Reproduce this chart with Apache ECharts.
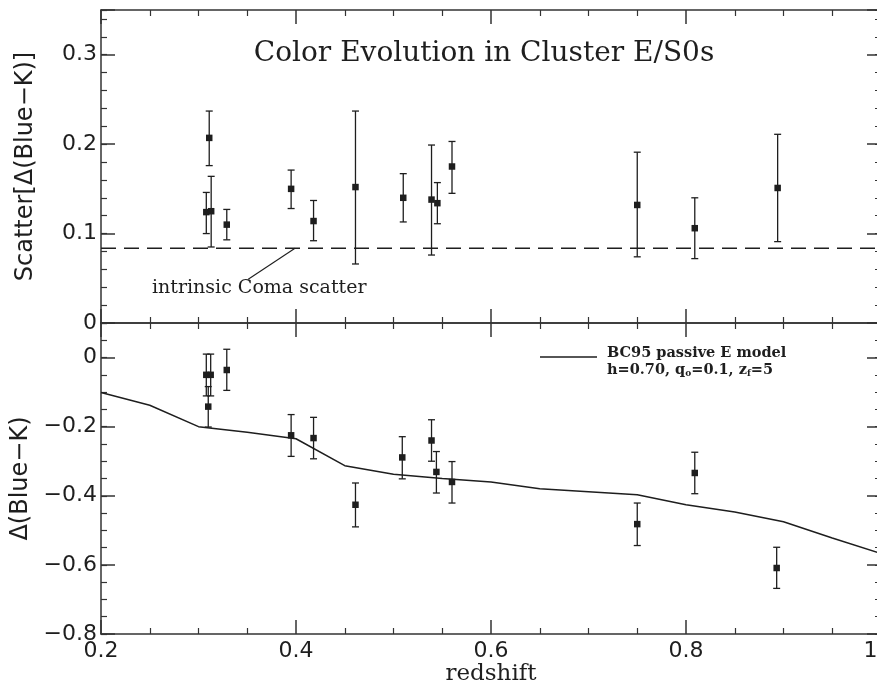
<!DOCTYPE html>
<html><head><meta charset="utf-8">
<script src="https://cdn.jsdelivr.net/npm/echarts@6/dist/echarts.min.js"></script>
<style>html,body{margin:0;padding:0;background:#fff}#c{width:877px;height:681px}</style>
</head><body><div id="c"></div>
<script>
// ---- data ----
const redshift   = [0.308, 0.311, 0.313, 0.329, 0.395, 0.418, 0.461, 0.510, 0.539, 0.545, 0.560, 0.750, 0.809, 0.894];
const scatterVal = [0.124, 0.207, 0.125, 0.110, 0.150, 0.114, 0.152, 0.140, 0.138, 0.134, 0.175, 0.132, 0.106, 0.151];
const scatterLo  = [0.100, 0.176, 0.085, 0.093, 0.128, 0.092, 0.066, 0.113, 0.076, 0.111, 0.145, 0.074, 0.072, 0.091];
const scatterHi  = [0.146, 0.237, 0.164, 0.127, 0.171, 0.137, 0.237, 0.167, 0.199, 0.157, 0.203, 0.191, 0.140, 0.211];
const botZ       = [0.308, 0.310, 0.3125, 0.329, 0.395, 0.418, 0.461, 0.509, 0.539, 0.544, 0.560, 0.750, 0.809, 0.893];
const deltaVal   = [-0.050, -0.142, -0.050, -0.036, -0.225, -0.233, -0.426, -0.289, -0.240, -0.331, -0.360, -0.482, -0.334, -0.609];
const deltaLo    = [-0.111, -0.201, -0.111, -0.095, -0.286, -0.293, -0.490, -0.351, -0.300, -0.392, -0.421, -0.544, -0.394, -0.668];
const deltaHi    = [0.010, -0.084, 0.010, 0.024, -0.165, -0.173, -0.363, -0.229, -0.180, -0.272, -0.301, -0.421, -0.274, -0.549];
const modelZ     = [0.20, 0.25, 0.30, 0.35, 0.40, 0.45, 0.50, 0.55, 0.60, 0.65, 0.70, 0.75, 0.80, 0.85, 0.90, 0.95, 1.00];
const modelDelta = [-0.101, -0.138, -0.200, -0.216, -0.235, -0.313, -0.338, -0.350, -0.360, -0.380, -0.388, -0.397, -0.426, -0.447, -0.475, -0.522, -0.567];
const comaZ      = [0.2, 1.0];
const comaScatter= [0.0836, 0.0836];
const leaderZ    = [0.351, 0.399];
const leaderY    = [0.049, 0.0836];
const xTickLabels   = [0.2, 0.4, 0.6, 0.8, 1.0];
const topTickLabels = [0, 0.1, 0.2, 0.3];
const botTickLabels = [0, -0.2, -0.4, -0.6, -0.8];

// ---- style ----
const INK = '#1e1e1e', AX = '#333';
const SANS = 'DejaVu Sans', SERIF = 'DejaVu Serif';
const near = (v, arr) => arr.some(t => Math.abs(t - v) < 1e-6);
const fmt = (arr) => (v) => near(v, arr) ? (Math.abs(v) < 1e-9 ? '0' : v.toFixed(1).replace('-', '\u2212')) : '';

function xAx(grid, pos, showLabel, name) {
  return {
    type: 'value', gridIndex: grid, position: pos, min: 0.2, max: 1.0, interval: 0.2,
    axisLine: { show: true, onZero: false, lineStyle: { color: AX, width: 1.5 } },
    axisTick: { show: true, inside: true, length: 14, lineStyle: { color: AX, width: 1.5 } },
    minorTick: { show: true, splitNumber: 4, length: 6, lineStyle: { color: AX, width: 1.2 } },
    splitLine: { show: false }, minorSplitLine: { show: false },
    axisLabel: { show: showLabel, margin: 6, color: INK, fontFamily: SANS, fontSize: 22, formatter: fmt(xTickLabels) },
    name: name || '', nameLocation: 'middle', nameGap: 22,
    nameTextStyle: { color: INK, fontFamily: SERIF, fontSize: 23, verticalAlign: 'top' }
  };
}
function yMajor(grid, pos, min, max, interval, labels, name) {
  return {
    type: 'value', gridIndex: grid, position: pos, min, max, interval,
    axisLine: { show: true, onZero: false, lineStyle: { color: AX, width: 1.5 } },
    axisTick: { show: true, inside: true, length: 14, lineStyle: { color: AX, width: 1.5 } },
    splitLine: { show: false },
    axisLabel: { show: !!labels, margin: 4, color: INK, fontFamily: SANS, fontSize: 22, formatter: labels ? fmt(labels) : '' },
    name: name || '', nameLocation: 'middle', nameGap: 63, nameRotate: 90,
    nameTextStyle: { color: INK, fontFamily: SANS, fontSize: 24 }
  };
}
function yMinor(grid, pos, min, max, interval) {
  return {
    type: 'value', gridIndex: grid, position: pos, min, max, interval,
    axisLine: { show: false, onZero: false },
    axisTick: { show: true, inside: true, length: 6, lineStyle: { color: AX, width: 1.2 } },
    splitLine: { show: false }, axisLabel: { show: false }
  };
}
function errSeries(xi, yi, xs, v, lo, hi) {
  return {
    type: 'custom', xAxisIndex: xi, yAxisIndex: yi, clip: false, silent: true, z: 5,
    data: xs.map((x, i) => [x, v[i], lo[i], hi[i]]),
    encode: { x: 0, y: [1, 2, 3] },
    renderItem(params, api) {
      const x = api.value(0);
      const p = api.coord([x, api.value(1)]);
      const a = api.coord([x, api.value(2)]);
      const b = api.coord([x, api.value(3)]);
      const cw = 3.5, s = 6.5;
      const ls = { stroke: INK, lineWidth: 1.3, fill: null };
      return { type: 'group', children: [
        { type: 'line', shape: { x1: a[0], y1: a[1], x2: b[0], y2: b[1] }, style: ls },
        { type: 'line', shape: { x1: a[0] - cw, y1: a[1], x2: a[0] + cw, y2: a[1] }, style: ls },
        { type: 'line', shape: { x1: b[0] - cw, y1: b[1], x2: b[0] + cw, y2: b[1] }, style: ls },
        { type: 'rect', shape: { x: p[0] - s / 2, y: p[1] - s / 2, width: s, height: s }, style: { fill: INK } }
      ]};
    }
  };
}

const chart = echarts.init(document.getElementById('c'), null, { renderer: 'canvas' });
chart.setOption({
  backgroundColor: '#fff',
  animation: false,
  grid: [
    { left: 101, top: 10, width: 780, height: 313, outerBoundsMode: 'none', containLabel: false },
    { left: 101, top: 323, width: 780, height: 311, outerBoundsMode: 'none', containLabel: false }
  ],
  xAxis: [
    xAx(0, 'bottom', false), xAx(0, 'top', false),
    xAx(1, 'bottom', true, 'redshift'), xAx(1, 'top', false)
  ],
  yAxis: [
    yMajor(0, 'left', 0, 0.35, 0.1, topTickLabels, 'Scatter[\u0394(Blue\u2212K)]'),
    yMinor(0, 'left', 0, 0.35, 0.02),
    yMajor(0, 'right', 0, 0.35, 0.1, null),
    yMinor(0, 'right', 0, 0.35, 0.02),
    yMajor(1, 'left', -0.8, 0.1, 0.2, botTickLabels, '\u0394(Blue\u2212K)'),
    yMinor(1, 'left', -0.8, 0.1, 0.05),
    yMajor(1, 'right', -0.8, 0.1, 0.2, null),
    yMinor(1, 'right', -0.8, 0.1, 0.05)
  ],
  legend: {
    show: true, left: 540, top: 346, padding: 0, itemWidth: 57, itemHeight: 1.5, selectedMode: false,
    icon: 'rect',
    data: ['BC95 passive E model'],
    formatter: () => '{a|BC95 passive E model}\n{a|h=0.70, q}{s|o}{a|=0.1, z}{s|f}{a|=5}',
    itemGap: 10,
    textStyle: {
      padding: [10, 0, 0, 5],
      rich: {
        a: { fontFamily: SERIF, fontWeight: 'bold', fontSize: 14.5, lineHeight: 17, color: INK },
        s: { fontFamily: SERIF, fontWeight: 'bold', fontSize: 9, lineHeight: 17, color: INK, padding: [7, 0, 0, 0] }
      }
    }
  },
  graphic: [
    { type: 'text', x: 484, y: 54, style: { text: 'Color Evolution in Cluster E/S0s', fill: INK, font: '28px "DejaVu Serif"', align: 'center', verticalAlign: 'middle' } },
    { type: 'text', x: 152, y: 288, style: { text: 'intrinsic Coma scatter', fill: INK, font: '19px "DejaVu Serif"', align: 'left', verticalAlign: 'middle' } }
  ],
  series: [
    { type: 'line', name: 'coma', xAxisIndex: 0, yAxisIndex: 0, symbol: 'none', silent: true,
      data: comaZ.map((z, i) => [z, comaScatter[i]]), lineStyle: { color: INK, width: 1.4, type: [15, 8] } },
    { type: 'line', name: 'leader', xAxisIndex: 0, yAxisIndex: 0, symbol: 'none', silent: true,
      data: leaderZ.map((z, i) => [z, leaderY[i]]), lineStyle: { color: INK, width: 1.1 } },
    errSeries(0, 0, redshift, scatterVal, scatterLo, scatterHi),
    { type: 'line', name: 'BC95 passive E model', xAxisIndex: 2, yAxisIndex: 4, symbol: 'none', silent: true,
      data: modelZ.map((z, i) => [z, modelDelta[i]]), lineStyle: { color: INK, width: 1.5 }, itemStyle: { color: INK } },
    errSeries(2, 4, botZ, deltaVal, deltaLo, deltaHi)
  ]
});
</script></body></html>
